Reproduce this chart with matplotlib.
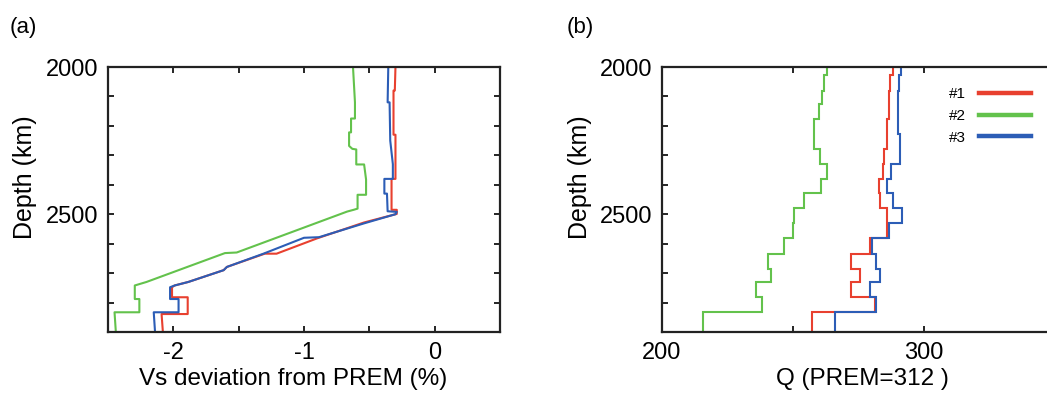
import matplotlib
matplotlib.use('Agg')
import matplotlib.pyplot as plt

plt.rcParams['font.family'] = ['Liberation Sans', 'DejaVu Sans']
plt.rcParams['axes.unicode_minus'] = False

### data
series_names = ['#1', '#2', '#3']
series_colors = ['#e8402f', '#63c24c', '#2c5db6']

# (a) Vs deviation profiles: vertices (value %, depth km)
vs_red = [-0.30, -0.305, -0.315, -0.315, -0.30, -0.30, -0.33, -0.33, -0.29, -0.29,
          -0.54, -0.90, -1.21, -1.30, -1.59, -1.615, -1.885, -1.99, -2.01,
          -2.01, -1.89, -1.89, -2.09, -2.08]
dep_red = [2000, 2080, 2080, 2230, 2230, 2380, 2380, 2485, 2485, 2499,
           2528, 2582, 2634, 2634, 2679, 2690, 2730, 2742, 2748,
           2782, 2782, 2839, 2839, 2900]

vs_green = [-0.625, -0.61, -0.61, -0.64, -0.64, -0.655, -0.655, -0.63, -0.60, -0.60,
            -0.54, -0.525, -0.525, -0.59, -0.59, -0.62, -0.67, -1.515, -1.605,
            -2.205, -2.295, -2.295, -2.26, -2.26, -2.45, -2.44]
dep_green = [2000, 2120, 2175, 2175, 2222, 2222, 2268, 2278, 2280, 2331,
             2331, 2382, 2434, 2434, 2481, 2485, 2491, 2630, 2632,
             2730, 2742, 2788, 2788, 2833, 2833, 2900]

vs_blue = [-0.355, -0.36, -0.345, -0.34, -0.32, -0.32, -0.385, -0.385, -0.365, -0.36,
           -0.29, -0.30, -0.54, -0.885, -1.0, -1.31, -1.59, -1.615, -1.885, -1.99,
           -2.025, -2.025, -1.96, -1.96, -2.15, -2.14]
dep_blue = [2000, 2120, 2120, 2250, 2330, 2380, 2380, 2430, 2430, 2490,
            2492, 2500, 2531, 2578, 2580, 2634, 2679, 2690, 2730, 2742,
            2748, 2788, 2788, 2833, 2833, 2900]

# (b) Q profiles: layer edges (km) and Q per layer
q_edges = [2000, 2028, 2080, 2125, 2177, 2228, 2280, 2331, 2380, 2428,
           2479, 2531, 2582, 2634, 2685, 2730, 2782, 2833, 2900]
q_red = [288.2, 287.3, 286.6, 286.6, 286.0, 286.0, 284.8, 284.3, 282.8, 283.4,
         286.2, 286.2, 279.4, 272.4, 275.8, 272.4, 281.5, 257.3]
q_green = [263.0, 262.0, 261.3, 260.0, 258.2, 258.2, 260.5, 263.1, 260.8, 254.4,
           250.6, 250.2, 246.8, 240.4, 241.7, 236.0, 238.2, 215.7]
q_blue = [291.2, 290.7, 290.1, 290.1, 290.2, 291.0, 290.8, 287.6, 285.9, 288.3,
          291.7, 286.6, 280.3, 281.8, 283.4, 279.6, 281.9, 266.2]

depth_ticks = [2000, 2100, 2200, 2300, 2400, 2500, 2600, 2700, 2800, 2900]
depth_labels = ['2000', '', '', '', '', '2500', '', '', '', '']
vs_ticks = [-2.5, -2, -1.5, -1, -0.5, 0, 0.5]
vs_labels = ['', '-2', '', '-1', '', '0', '']
q_ticks = [200, 250, 300, 350]
q_labels = ['200', '', '300', '']


def style_axes(ax):
    ax.set_ylim(2900, 2000)
    ax.set_yticks(depth_ticks, depth_labels)
    ax.tick_params(direction='in', top=True, right=True, length=4, width=1.2,
                   labelsize=17, pad=7)
    ax.tick_params(axis='x', pad=7)
    for sp in ax.spines.values():
        sp.set_linewidth(1.6)
        sp.set_color('#222222')
    ax.set_ylabel('Depth (km)', fontsize=18)


def main():
    fig = plt.figure(figsize=(10.47, 3.99), dpi=100)
    ax1 = fig.add_axes([108 / 1047, 1 - 332 / 399, 392 / 1047, 265 / 399])
    ax2 = fig.add_axes([661.7 / 1047, 1 - 332 / 399, 392.9 / 1047, 265 / 399])

    # panel (a)
    ax1.plot(vs_red, dep_red, color=series_colors[0], lw=1.5)
    ax1.plot(vs_green, dep_green, color=series_colors[1], lw=1.5)
    ax1.plot(vs_blue, dep_blue, color=series_colors[2], lw=1.5)
    ax1.set_xlim(-2.5, 0.5)
    ax1.set_xticks(vs_ticks, vs_labels)
    style_axes(ax1)
    ax1.set_xlabel('Vs deviation from PREM (%)', fontsize=17.5)
    ax1.xaxis.set_label_coords(0.472, -0.135)
    ax1.yaxis.set_label_coords(-0.18, 0.585)

    # panel (b)
    for vals, col, name in zip([q_red, q_green, q_blue], series_colors, series_names):
        ax2.stairs(vals, q_edges, orientation='horizontal', baseline=None,
                   color=col, lw=1.5, label=name)
    ax2.set_xlim(200, 350)
    ax2.set_xticks(q_ticks, q_labels)
    style_axes(ax2)
    ax2.set_xlabel('Q (PREM=312 )', fontsize=17.5)
    ax2.xaxis.set_label_coords(0.51, -0.135)
    ax2.yaxis.set_label_coords(-0.177, 0.585)

    leg = ax2.legend(loc='upper left', bbox_to_anchor=(0.73, 0.923), frameon=False,
                     markerfirst=False, handlelength=3.4, handletextpad=0.9,
                     labelspacing=0.5, fontsize=11, borderpad=0, borderaxespad=0)
    for ln in leg.get_lines():
        ln.set_linewidth(3.2)

    fig.text(10 / 1047, 1 - 28 / 399, '(a)', fontsize=16, va='center')
    fig.text(567 / 1047, 1 - 28 / 399, '(b)', fontsize=16, va='center')

    fig.savefig('out.png', dpi=100)


if __name__ == '__main__':
    main()
